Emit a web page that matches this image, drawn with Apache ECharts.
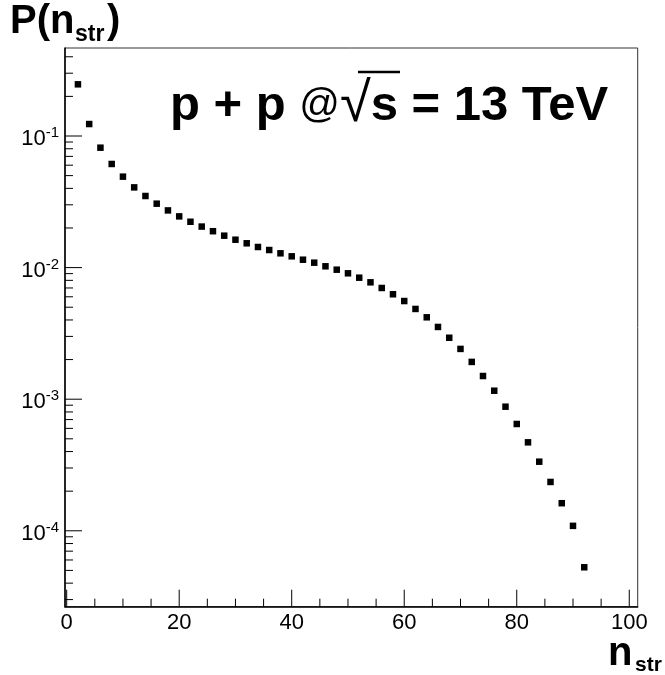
<!DOCTYPE html>
<html>
<head>
<meta charset="utf-8">
<script src="https://cdn.jsdelivr.net/npm/echarts@6/dist/echarts.min.js"></script>
<style>html,body{margin:0;padding:0;background:#fff;}#c{width:665px;height:675px;}</style>
</head>
<body>
<div id="c"></div>
<script>
// ---- data ----
const nStr = [2,4,6,8,10,12,14,16,18,20,22,24,26,28,30,32,34,36,38,40,42,44,46,48,50,52,54,56,58,60,62,64,66,68,70,72,74,76,78,80,82,84,86,88,90,92];
const prob = [0.247,0.1233,0.0815,0.0613,0.0491,0.0407,0.0350,0.0306,0.0272,0.0245,0.0223,0.0205,0.0189,0.01748,0.01629,0.01530,0.01434,0.01360,0.01284,0.01218,0.01148,0.01090,0.01023,0.00964,0.00905,0.00838,0.00773,0.00700,0.00627,0.00557,0.00485,0.00419,0.00354,0.00293,0.00241,0.00192,0.00150,0.00116,0.000877,0.000648,0.000470,0.000335,0.000235,0.000162,0.000109,0.0000528];

const xMajorTicks = [0,20,40,60,80,100];
const xMinorTicks = [5,10,15,25,30,35,45,50,55,65,70,75,85,90,95];
const xTickLabels = ['0','20','40','60','80','100'];
const yMajorTicks = [1e-4,1e-3,1e-2,1e-1];
const yMinorTicks = [3e-5,4e-5,5e-5,6e-5,7e-5,8e-5,9e-5,
  2e-4,3e-4,4e-4,5e-4,6e-4,7e-4,8e-4,9e-4,
  2e-3,3e-3,4e-3,5e-3,6e-3,7e-3,8e-3,9e-3,
  2e-2,3e-2,4e-2,5e-2,6e-2,7e-2,8e-2,9e-2,
  2e-1,3e-1,4e-1];
const yTickExponents = ['-4','-3','-2','-1'];

const X_MIN = -0.3, X_MAX = 101.5;
const Y_MIN = 2.649e-5, Y_MAX = 0.4664;

const FONT = '"Liberation Sans", Arial, Helvetica, sans-serif';

const chart = echarts.init(document.getElementById('c'), null, {renderer:'canvas'});

const points = nStr.map((x,i)=>[x, prob[i]]);
const xTickData = xMajorTicks.map(v=>[v, Y_MIN, 1]).concat(xMinorTicks.map(v=>[v, Y_MIN, 0]));
const yTickData = yMajorTicks.map(v=>[X_MIN, v, 1]).concat(yMinorTicks.map(v=>[X_MIN, v, 0]));
const xLabelData = xMajorTicks.map((v,i)=>[v, Y_MIN, i]);
const yLabelData = yMajorTicks.map((v,i)=>[X_MIN, v, i]);

const option = {
  animation: false,
  backgroundColor: '#fff',
  grid: {left: 65, top: 48, right: 27.3, bottom: 68.3, show: true, borderColor: '#333', borderWidth: 1, backgroundColor: 'transparent'},
  xAxis: {
    type: 'value', min: X_MIN, max: X_MAX,
    axisLine: {show: true, onZero: false, lineStyle: {color: '#000', width: 1.5}},
    axisTick: {show: false}, axisLabel: {show: false}, splitLine: {show: false}
  },
  yAxis: {
    type: 'log', min: Y_MIN, max: Y_MAX, logBase: 10,
    axisLine: {show: true, onZero: false, lineStyle: {color: '#000', width: 1.5}},
    axisTick: {show: false}, axisLabel: {show: false}, splitLine: {show: false}, minorTick:{show:false}
  },
  series: [
    {
      type: 'custom', clip: false, silent: true, z: 5,
      data: xTickData,
      encode: {x: 0, y: 1},
      renderItem: function(params, api){
        const p = api.coord([api.value(0), Y_MIN]);
        const len = api.value(2) ? 17 : 8;
        return {type:'line', shape:{x1:p[0], y1:p[1], x2:p[0], y2:p[1]-len}, style:{stroke:'#000', lineWidth:1}};
      }
    },
    {
      type: 'custom', clip: false, silent: true, z: 5,
      data: yTickData,
      encode: {x: 0, y: 1},
      renderItem: function(params, api){
        const p = api.coord([X_MIN, api.value(1)]);
        const len = api.value(2) ? 17 : 8;
        return {type:'line', shape:{x1:p[0], y1:p[1], x2:p[0]+len, y2:p[1]}, style:{stroke:'#000', lineWidth:1}};
      }
    },
    {
      type: 'custom', clip: false, silent: true, z: 5,
      data: xLabelData,
      encode: {x: 0, y: 1},
      renderItem: function(params, api){
        const p = api.coord([api.value(0), Y_MIN]);
        return {type:'text', x: p[0], y: p[1]+16,
          style:{text: xTickLabels[api.value(2)], fill:'#000', font: '22px ' + FONT, align:'center', verticalAlign:'middle'}};
      }
    },
    {
      type: 'custom', clip: false, silent: true, z: 5,
      data: yLabelData,
      encode: {x: 0, y: 1},
      renderItem: function(params, api){
        const p = api.coord([X_MIN, api.value(1)]);
        return {type:'text', x: p[0]-6, y: p[1]+3,
          style:{text: '{a|10}{b|' + yTickExponents[api.value(2)] + '}', fill:'#000', font: '22px ' + FONT, align:'right', verticalAlign:'middle',
            rich:{a:{font: '22px ' + FONT, fontSize:22, fill:'#000'}, b:{font: '15px ' + FONT, fontSize:15, fill:'#000', padding:[0,0,12,0]}}}};
      }
    },
    {
      type: 'scatter', name: 'P(n_str)',
      data: points,
      symbol: 'rect', symbolSize: 6.5,
      itemStyle: {color: '#000', opacity: 1},
      z: 10
    }
  ],
  graphic: [
    {type:'text', x: 10, y: 21.7, style:{text:'P(n', font:'bold 40px ' + FONT, fill:'#000', verticalAlign:'middle', align:'left'}},
    {type:'text', x: 75, y: 35, style:{text:'str', font:'bold 23px ' + FONT, fill:'#000', verticalAlign:'middle', align:'left'}},
    {type:'text', x: 107, y: 21.7, style:{text:')', font:'bold 40px ' + FONT, fill:'#000', verticalAlign:'middle', align:'left'}},

    {type:'text', x: 608, y: 654, style:{text:'n', font:'bold 40px ' + FONT, fill:'#000', verticalAlign:'middle', align:'left'}},
    {type:'text', x: 635, y: 665, style:{text:'str', font:'bold 21px ' + FONT, fill:'#000', verticalAlign:'middle', align:'left'}},

    {type:'text', x: 170, y: 106, style:{
      text:'{a|p + p }{c|@}{d|√}{a|s}{a| = 13 TeV}', fill:'#000', verticalAlign:'middle', align:'left',
      rich:{
        a:{font:'bold 49px ' + FONT, fontSize:49, fontWeight:'bold', fill:'#000'},
        c:{font:'40px ' + FONT, fontSize:40, fill:'#000'},
        d:{font:'56px ' + FONT, fontSize:56, fill:'#000'}
      }}},
    {type:'line', shape:{x1:358, y1:72, x2:400, y2:72}, style:{stroke:'#000', lineWidth:2.5}}
  ]
};
chart.setOption(option);
</script>
</body>
</html>
